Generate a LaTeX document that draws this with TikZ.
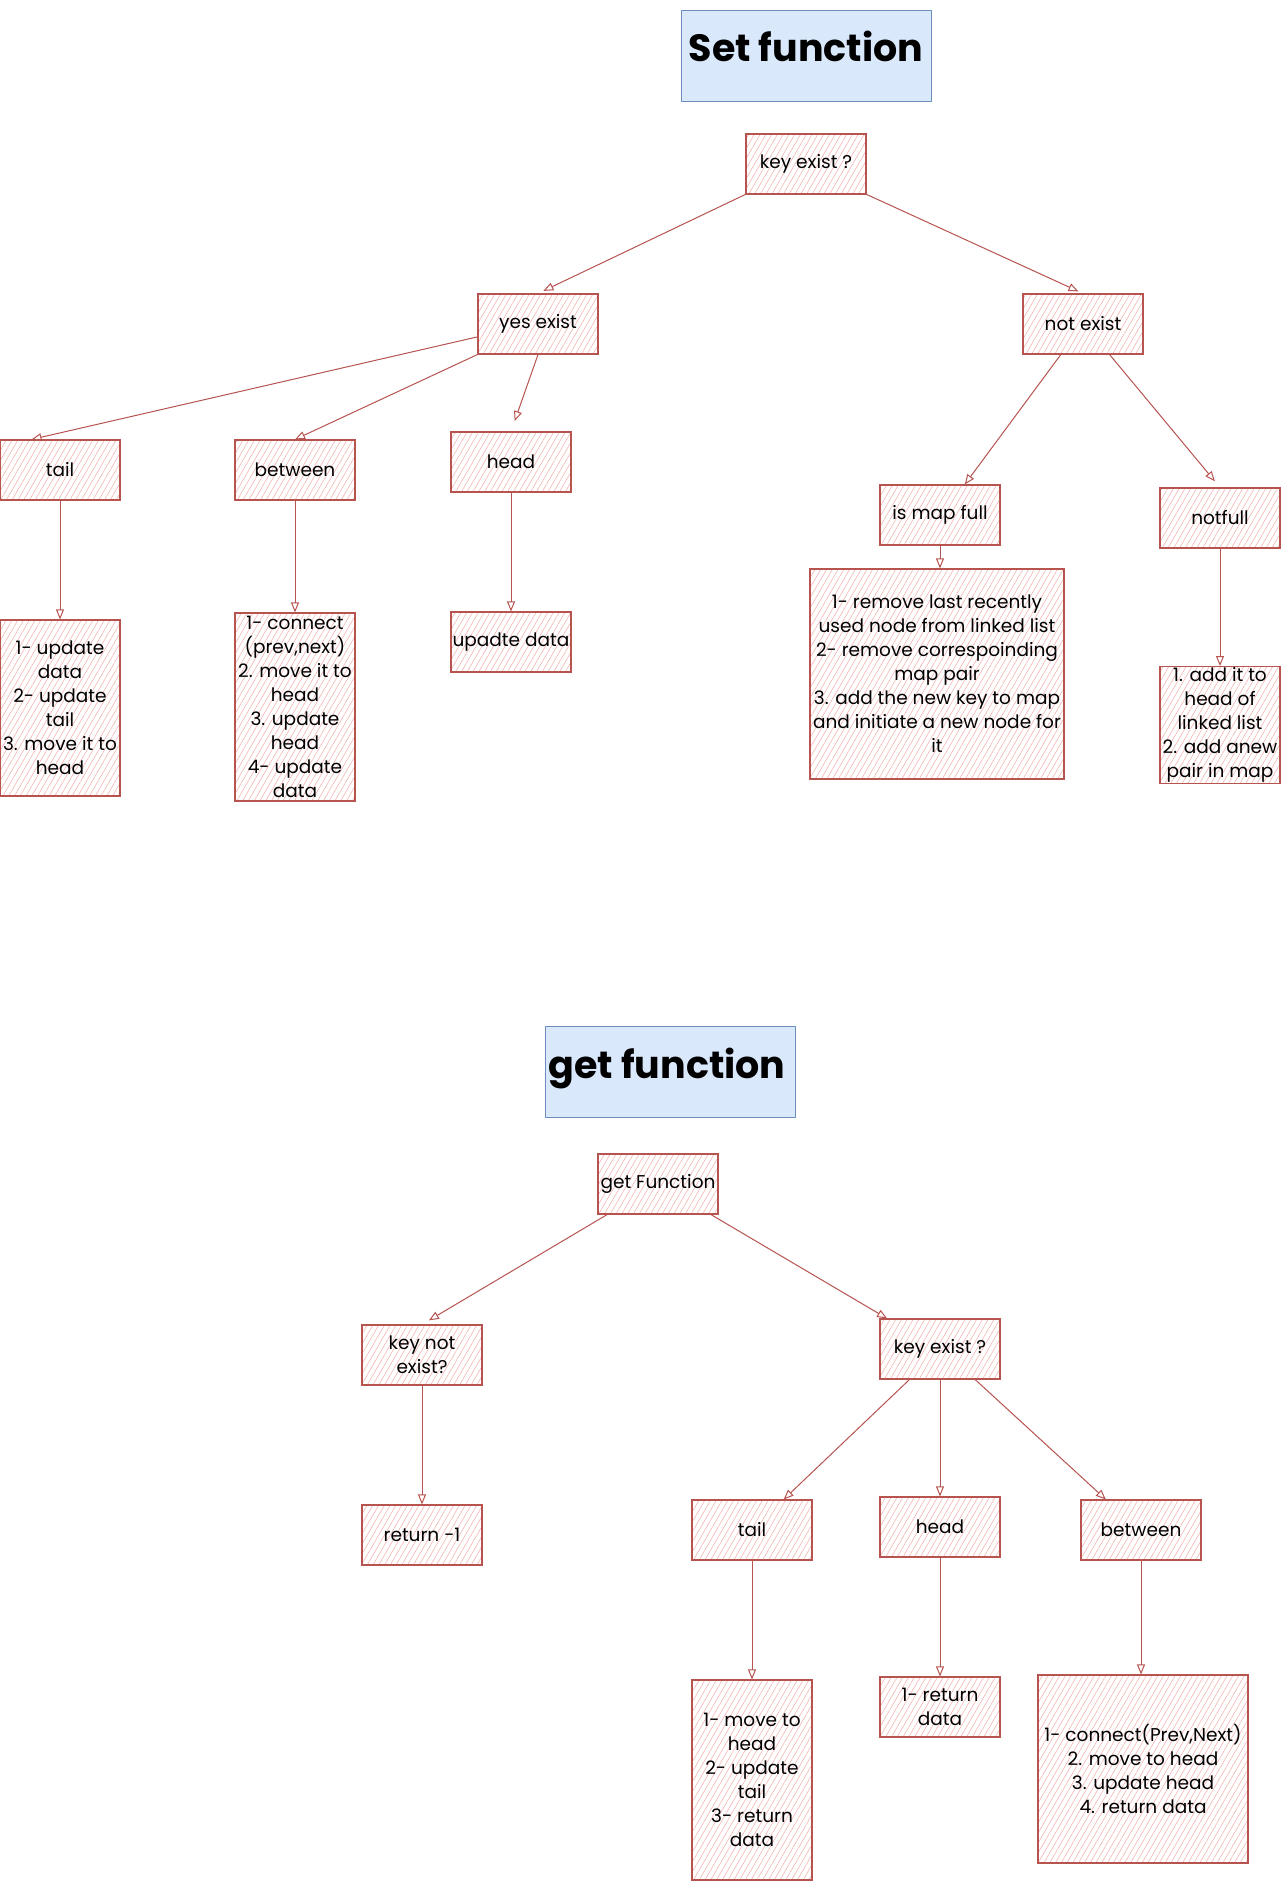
\documentclass[tikz,border=0pt]{standalone}
\usepackage{fontspec}
\setmainfont{Poppins}
\usetikzlibrary{arrows.meta,patterns.meta}
\definecolor{boxline}{HTML}{B85450}
\definecolor{boxfill}{HTML}{FDF2F1}
\definecolor{boxhatch}{HTML}{F3B6B2}
\definecolor{titleline}{HTML}{6C8EBF}
\definecolor{titlefill}{HTML}{DAE8FC}
\begin{document}
\begin{tikzpicture}[x=1pt,y=-1pt,
		box/.style={rectangle,draw=boxline,line width=1.1pt,fill=boxfill,pattern={Lines[angle=60,distance=5pt,line width=0.6pt]},pattern color=boxhatch,minimum width=120pt,minimum height=60pt,inner sep=1pt,align=center,font=\fontsize{18.5}{24}\selectfont},
		titlebox/.style={rectangle,draw=titleline,fill=titlefill,line width=0.8pt,minimum width=250pt,minimum height=91pt},
		titletext/.style={anchor=base,font=\fontsize{38}{40}\selectfont\bfseries},
		flow/.style={draw=boxline,line width=1pt,-{Triangle[open,length=10pt,width=8pt]}}]
	\path[use as bounding box,fill=white] (0,0) rectangle (1281,1881);
	% set function
	\node[titlebox] (settitle) at (806,56) {};
	\node[titletext] (settitlelbl) at (806,62) {Set function};
	\node[box] (keyset) at (806,164) {key exist ?};
	\node[box] (yesset) at (538,324) {yes exist};
	\node[box] (notset) at (1083,324) {not exist};
	\node[box] (tailset) at (60,470) {tail};
	\node[box] (betwset) at (295,470) {between};
	\node[box] (headset) at (511,462) {head};
	\node[box,minimum height=176pt] (tailstep) at (60,708) {1- update\\data\\2- update\\tail\\3. move it to\\head};
	\node[box,minimum height=188pt] (betwstep) at (295,707) {1- connect\\(prev,next)\\2. move it to\\head\\3. update\\head\\4- update\\data};
	\node[box] (headstep) at (511,642) {upadte data};
	\node[box] (fullset) at (940,515) {is map full};
	\node[box,minimum width=254pt,minimum height=210pt] (fullstep) at (937,674) {1- remove last recently\\used node from linked list\\2- remove correspoinding\\map pair\\3. add the new key to map\\and initiate a new node for\\it};
	\node[box] (notfullset) at (1220,518) {notfull};
	\node[box,minimum height=116pt] (notfullstep) at (1220,725) {1. add it to\\head of\\linked list\\2. add anew\\pair in map};
	\draw[flow,shorten >=6pt] (keyset.south west) -- (yesset.north);
	\draw[flow,shorten >=5pt] (keyset.south east) -- (notset.north);
	\draw[flow] (yesset.192) -- (tailset.133);
	\draw[flow] (yesset.south west) -- (betwset.north);
	\draw[flow,shorten >=11pt] (yesset.south) -- (headset.north);
	\draw[flow] (notset.234) -- (fullset.51);
	\draw[flow,shorten >=8pt] (notset.311) -- (notfullset.north);
	\draw[flow] (tailset.south) -- (tailstep.north);
	\draw[flow] (betwset.south) -- (betwstep.north);
	\draw[flow] (headset.south) -- (headstep.north);
	\draw[flow] (fullset.south) -- (fullset.south |- fullstep.north);
	\draw[flow] (notfullset.south) -- (notfullstep.north);
	% get function
	\node[titlebox] (gettitle) at (670,1072) {};
	\node[titletext] (gettitlelbl) at (667,1078) {get function};
	\node[box] (getfn) at (658,1184) {get Function};
	\node[box] (keynot) at (422,1355) {key not\\exist?};
	\node[box] (keyget) at (940,1349) {key exist ?};
	\node[box] (retget) at (422,1535) {return -1};
	\node[box] (tailget) at (752,1530) {tail};
	\node[box] (headget) at (940,1527) {head};
	\node[box] (betwget) at (1141,1530) {between};
	\node[box,minimum height=200pt] (tailgetstep) at (752,1780) {1- move to\\head\\2- update\\tail\\3- return\\data};
	\node[box] (headgetstep) at (940,1707) {1- return\\data};
	\node[box,minimum width=210pt,minimum height=188pt] (betwgetstep) at (1143,1769) {1- connect(Prev,Next)\\2. move to head\\3. update head\\4. return data};
	\draw[flow,shorten >=8pt] (getfn.211) -- (keynot.north);
	\draw[flow] (getfn.330) -- (keyget.150);
	\draw[flow] (keynot.south) -- (retget.north);
	\draw[flow] (keyget.225) -- (tailget.44);
	\draw[flow] (keyget.south) -- (headget.north);
	\draw[flow] (keyget.319) -- (betwget.139);
	\draw[flow] (tailget.south) -- (tailgetstep.north);
	\draw[flow] (headget.south) -- (headgetstep.north);
	\draw[flow] (betwget.south) -- (betwget.south |- betwgetstep.north);
\end{tikzpicture}
\end{document}
